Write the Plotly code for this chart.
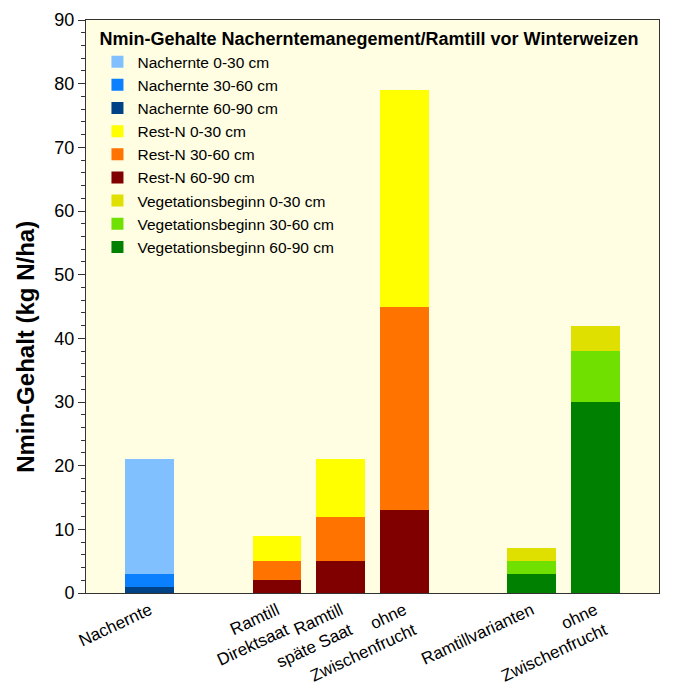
import plotly.graph_objects as go

categories = ["Nachernte", "Ramtill<br>Direktsaat", "Ramtill<br>späte Saat", "ohne<br>Zwischenfrucht",
              "Ramtillvarianten", "ohne<br>Zwischenfrucht"]
positions = [0, 2, 3, 4, 6, 7]

# values per category and soil layer (None = no bar)
nachernte_0_30 = [18, None, None, None, None, None]
nachernte_30_60 = [2, None, None, None, None, None]
nachernte_60_90 = [1, None, None, None, None, None]
restn_0_30 = [None, 4, 9, 34, None, None]
restn_30_60 = [None, 3, 7, 32, None, None]
restn_60_90 = [None, 2, 5, 13, None, None]
veg_0_30 = [None, None, None, None, 2, 4]
veg_30_60 = [None, None, None, None, 2, 8]
veg_60_90 = [None, None, None, None, 3, 30]

series = [
    ("Nachernte 60-90 cm", "#004286", nachernte_60_90, 3),
    ("Nachernte 30-60 cm", "#0A80FF", nachernte_30_60, 2),
    ("Nachernte 0-30 cm", "#80C0FF", nachernte_0_30, 1),
    ("Rest-N 60-90 cm", "#800000", restn_60_90, 6),
    ("Rest-N 30-60 cm", "#FF7300", restn_30_60, 5),
    ("Rest-N 0-30 cm", "#FFFF00", restn_0_30, 4),
    ("Vegetationsbeginn 60-90 cm", "#008000", veg_60_90, 9),
    ("Vegetationsbeginn 30-60 cm", "#70E000", veg_30_60, 8),
    ("Vegetationsbeginn 0-30 cm", "#E0E000", veg_0_30, 7),
]

fig = go.Figure()
for name, color, vals, rank in series:
    fig.add_trace(go.Bar(
        x=positions, y=vals, name=name, marker=dict(color=color, line=dict(width=0)),
        width=0.76, legendrank=rank,
    ))

fig.update_layout(
    barmode="stack",
    width=676, height=681,
    margin=dict(l=78, r=25, t=12, b=96, autoexpand=False),
    paper_bgcolor="white",
    plot_bgcolor="#FFFDE2",
    font=dict(family="Liberation Sans, Arial, sans-serif", color="black"),
    showlegend=True,
    legend=dict(
        x=0.02, y=0.997, xanchor="left", yanchor="top",
        bgcolor="rgba(0,0,0,0)",
        title=dict(text="<b>Nmin-Gehalte Nacherntemanegement/Ramtill vor Winterweizen</b>",
                   font=dict(size=18), side="top"),
        font=dict(size=15.5),
        tracegroupgap=0,
        itemwidth=30,
        traceorder="normal",
    ),
    annotations=[dict(
        text="<b>Nmin-Gehalt (kg N/ha)</b>", textangle=-90,
        xref="paper", yref="paper", x=-0.106, y=0.43,
        xanchor="center", yanchor="middle", showarrow=False,
        font=dict(size=24),
    )],
)
fig.update_xaxes(
    range=[-1, 8],
    tickmode="array", tickvals=positions, ticktext=categories,
    tickangle=-25, tickfont=dict(size=17),
    showline=True, linecolor="#333", linewidth=1, mirror=True,
    ticks="", showgrid=False, zeroline=False, automargin=False,
)
fig.update_yaxes(
    range=[0, 90],
    tickmode="linear", tick0=0, dtick=10,
    tickfont=dict(size=18),
    ticks="outside", ticklen=7, tickcolor="#333",
    minor=dict(ticks="outside", ticklen=4, dtick=2, tickcolor="#333", showgrid=False),
    showline=True, linecolor="#333", linewidth=1, mirror=True,
    showgrid=False, zeroline=False, automargin=False,
)

fig.write_html("out.html")
